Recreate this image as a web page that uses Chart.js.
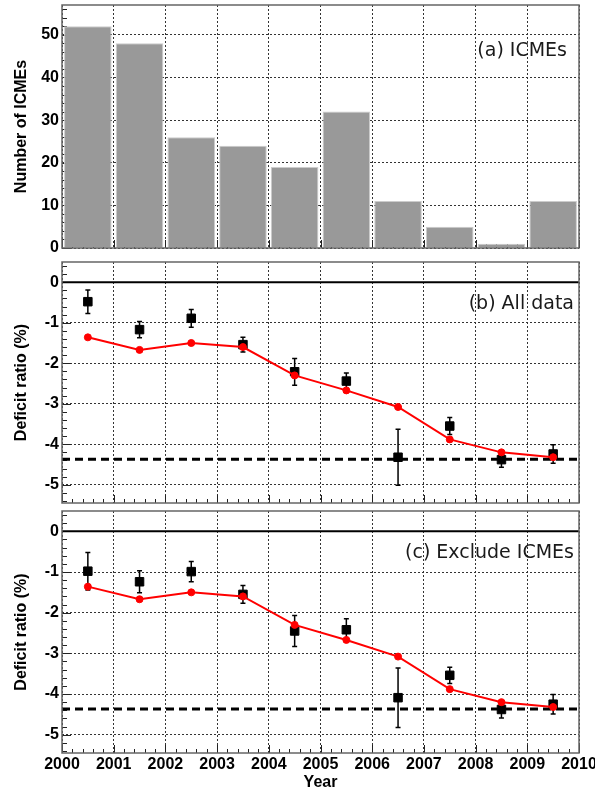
<!DOCTYPE html>
<html>
<head>
<meta charset="utf-8">
<script src="https://cdn.jsdelivr.net/npm/chart.js@4.4.1/dist/chart.umd.min.js"></script>
<style>
    html, body { margin: 0; padding: 0; background: #fff; }
    body { width: 595px; height: 794px; position: relative; overflow: hidden; }
    .panel { position: absolute; left: 0; width: 595px; }
    #panelA { top: 0; height: 252px; }
    #panelB { top: 252px; height: 252px; }
    #panelC { top: 504px; height: 290px; }
</style>
</head>
<body>
<div class="panel" id="panelA"><canvas id="icmeChart"></canvas></div>
<div class="panel" id="panelB"><canvas id="allDataChart"></canvas></div>
<div class="panel" id="panelC"><canvas id="excludeChart"></canvas></div>

<script>
// Data (one entry per year, plotted at mid-year)
const years = [2000, 2001, 2002, 2003, 2004, 2005, 2006, 2007, 2008, 2009];
const icmeCounts = [52, 48, 26, 24, 19, 32, 11, 5, 1, 11];

const modelDeficit = [-1.36, -1.67, -1.50, -1.60, -2.30, -2.67, -3.08, -3.88, -4.20, -4.32];

const allDeficit = [-0.48, -1.17, -0.89, -1.54, -2.21, -2.44, -4.32, -3.55, -4.38, -4.24];
const allErr = [0.29, 0.20, 0.22, 0.18, 0.33, 0.20, 0.69, 0.21, 0.19, 0.23];

const exclDeficit = [-0.98, -1.24, -0.99, -1.55, -2.45, -2.42, -4.09, -3.54, -4.38, -4.25];
const exclErr = [0.46, 0.27, 0.25, 0.22, 0.38, 0.27, 0.73, 0.20, 0.21, 0.24];

const referenceLevel = -4.37;
const zeroLevel = 0;

const axisFont = { family: "'Liberation Sans', Arial, sans-serif", size: 16, weight: 'bold' };
const labelFont = "19px 'DejaVu Sans', sans-serif";

// ROOT-like frame, inner tick marks and panel label
const rootFrame = {
    id: 'rootFrame',
    beforeDatasetsDraw(chart, args, opts) {
        const { ctx, chartArea: a, scales: { x, y } } = chart;
        ctx.save();
        ctx.strokeStyle = '#222';
        ctx.lineWidth = 1;
        ctx.beginPath();
        // x ticks every 0.2 year
        for (let i = 0; i <= 50; i++) {
            const px = Math.round(x.getPixelForValue(2000 + i * 0.2)) + 0.5;
            const len = i % 5 === 0 ? 8 : 4;
            ctx.moveTo(px, a.bottom);
            ctx.lineTo(px, a.bottom - len);
        }
        // y ticks
        const n = Math.round((opts.yTop - opts.yStart) / opts.yMinor);
        for (let i = 0; i <= n; i++) {
            const v = opts.yStart + i * opts.yMinor;
            const py = Math.round(y.getPixelForValue(v)) + 0.5;
            const isMajor = Math.abs(v / opts.yMajor - Math.round(v / opts.yMajor)) < 1e-6;
            const len = isMajor ? 9 : 5;
            ctx.moveTo(a.left, py);
            ctx.lineTo(a.left + len, py);
        }
        ctx.stroke();
        ctx.restore();
    },
    afterDatasetsDraw(chart, args, opts) {
        const { ctx, chartArea: a } = chart;
        ctx.save();
        ctx.strokeStyle = '#666';
        ctx.lineWidth = 1.5;
        ctx.strokeRect(a.left, a.top, a.right - a.left, a.bottom - a.top);
        ctx.fillStyle = '#1a1a1a';
        ctx.font = labelFont;
        ctx.textAlign = 'right';
        ctx.textBaseline = 'middle';
        ctx.fillText(opts.label, a.right - opts.labelDx, a.top + opts.labelDy);
        ctx.restore();
    }
};

// Vertical error bars with small caps, drawn under the squares
const errorBars = {
    id: 'errorBars',
    beforeDatasetDraw(chart, args) {
        const ds = chart.data.datasets[args.index];
        if (!ds.errors) return;
        const { ctx, scales: { x, y } } = chart;
        ctx.save();
        ctx.strokeStyle = '#000';
        ctx.lineWidth = 1.5;
        ctx.beginPath();
        ds.data.forEach((p, i) => {
            const px = x.getPixelForValue(p.x);
            const top = y.getPixelForValue(p.y + ds.errors[i]);
            const bot = y.getPixelForValue(p.y - ds.errors[i]);
            ctx.moveTo(px, top); ctx.lineTo(px, bot);
            ctx.moveTo(px - 2.5, top); ctx.lineTo(px + 2.5, top);
            ctx.moveTo(px - 2.5, bot); ctx.lineTo(px + 2.5, bot);
        });
        ctx.stroke();
        ctx.restore();
    }
};

function xScale(showLabels) {
    return {
        type: 'linear',
        min: 2000,
        max: 2010,
        offset: false,
        grid: { offset: false, color: '#333', lineWidth: 1, drawTicks: false },
        border: { display: false, dash: [2, 2] },
        ticks: {
            display: showLabels,
            stepSize: 1,
            autoSkip: false,
            maxRotation: 0,
            padding: 2,
            color: '#000',
            font: axisFont,
            callback: (v) => String(v)
        },
        title: {
            display: showLabels,
            text: 'Year',
            color: '#000',
            font: axisFont,
            padding: { top: 0, bottom: 2 }
        },
        afterFit(scale) {
            scale.paddingLeft = 0;
            scale.paddingRight = 0;
            scale.height = showLabels ? 41 : 0;
        }
    };
}

function yScale(min, max, step, title) {
    return {
        type: 'linear',
        min: min,
        max: max,
        grid: { color: '#333', lineWidth: 1, drawTicks: false },
        border: { display: false, dash: [2, 2] },
        ticks: {
            stepSize: step,
            includeBounds: false,
            padding: 3,
            color: '#000',
            font: axisFont,
            callback: (v) => String(v)
        },
        title: {
            display: true,
            text: title,
            color: '#000',
            font: axisFont,
            padding: { top: 12, bottom: 0 }
        },
        afterFit(scale) {
            scale.width = 62;
            scale.paddingTop = 0;
            scale.paddingBottom = 0;
        }
    };
}

// Panel (a): number of ICMEs per year
new Chart(document.getElementById('icmeChart'), {
    type: 'bar',
    data: {
        datasets: [{
            data: years.map((yr, i) => ({ x: yr + 0.5, y: icmeCounts[i] })),
            backgroundColor: '#999999',
            borderColor: '#cccccc',
            borderWidth: 1,
            barPercentage: 0.92,
            categoryPercentage: 1
        }]
    },
    options: {
        responsive: true,
        maintainAspectRatio: false,
        animation: false,
        layout: { autoPadding: false, padding: { top: 5, right: 16, bottom: 4, left: 0 } },
        plugins: {
            legend: { display: false },
            tooltip: { enabled: false },
            rootFrame: { label: '(a) ICMEs', labelDx: 12, labelDy: 46, yStart: 0, yTop: 56, yMinor: 2, yMajor: 10 }
        },
        scales: { x: xScale(false), y: yScale(0, 57, 10, 'Number of ICMEs') }
    },
    plugins: [rootFrame]
});

function deficitConfig(values, errs, label, padTop, padBottom, showX) {
    return {
        type: 'line',
        data: {
            datasets: [
                {
                    data: years.map((yr, i) => ({ x: yr + 0.5, y: modelDeficit[i] })),
                    borderColor: '#ff0000',
                    backgroundColor: '#ff0000',
                    borderWidth: 2,
                    pointRadius: 3.5,
                    pointBorderWidth: 1,
                    tension: 0
                },
                {
                    data: years.map((yr, i) => ({ x: yr + 0.5, y: values[i] })),
                    errors: errs,
                    showLine: false,
                    pointStyle: 'rect',
                    pointRadius: 6,
                    pointBorderWidth: 1,
                    borderColor: '#000',
                    backgroundColor: '#000'
                },
                {
                    data: [{ x: 2000, y: referenceLevel }, { x: 2010, y: referenceLevel }],
                    borderColor: '#000',
                    borderWidth: 3,
                    borderDash: [8, 5],
                    pointRadius: 0
                },
                {
                    data: [{ x: 2000, y: zeroLevel }, { x: 2010, y: zeroLevel }],
                    borderColor: '#000',
                    borderWidth: 2,
                    pointRadius: 0
                }
            ]
        },
        options: {
            responsive: true,
            maintainAspectRatio: false,
            animation: false,
            layout: { autoPadding: false, padding: { top: padTop, right: 16, bottom: padBottom, left: 0 } },
            plugins: {
                legend: { display: false },
                tooltip: { enabled: false },
                rootFrame: { label: label, labelDx: 5, labelDy: 42, yStart: -5.4, yTop: 0.4, yMinor: 0.2, yMajor: 1 }
            },
            scales: { x: xScale(showX), y: yScale(-5.45, 0.5, 1, 'Deficit ratio (%)') }
        },
        plugins: [errorBars, rootFrame]
    };
}

// Panel (b): all data
new Chart(document.getElementById('allDataChart'),
    deficitConfig(allDeficit, allErr, '(b) All data', 10, 1, false));

// Panel (c): excluding ICME periods
new Chart(document.getElementById('excludeChart'),
    deficitConfig(exclDeficit, exclErr, '(c) Exclude ICMEs', 7, 0, true));
</script>
</body>
</html>
